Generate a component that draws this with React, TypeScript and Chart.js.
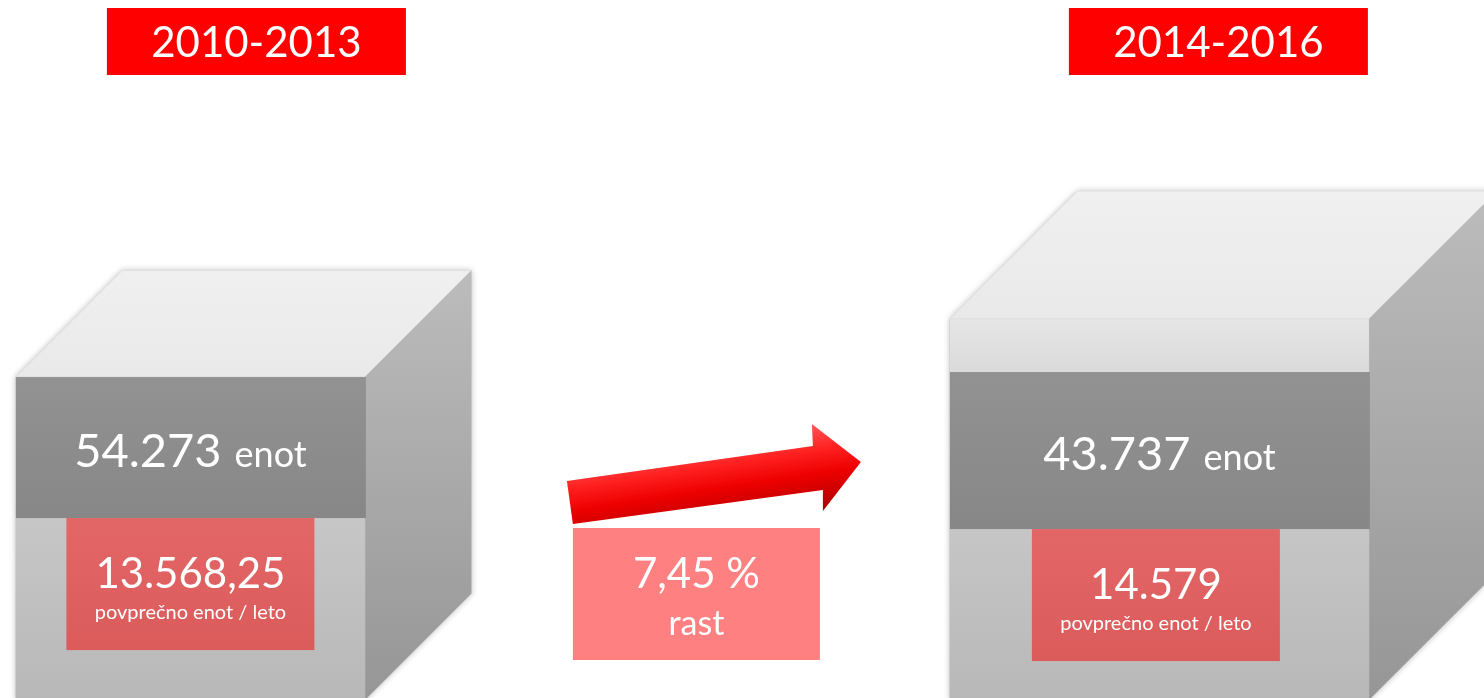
import React, { useEffect, useRef } from 'react';
import { Chart, registerables } from 'chart.js';

Chart.register(...registerables);

// ---------------- data ----------------
const periods = ['2010-2013', '2014-2016'];
const periodPositions = [0, 2];
const totalUnits = [54273, 43737];
const averagePerYear = [13568.25, 14579];
const averageDecimals = [2, 0];
const growthPercent = [7.45];
const growthPosition = [1];
const unitWord = 'enot';
const averageCaption = 'povprečno enot / leto';
const growthCaption = 'rast';

// ---------------- scale ranges / styles ----------------
const Y_MIN = 7940;
const Y_MAX = 20140;
const X_MIN = -0.393;
const X_MAX = 2.67;

const FONT = 'Lato, "Open Sans", sans-serif';

const cubeStyles = [
  { width: 349, bandOffset: 0, bandHeight: 141, headerShift: 66, boxShift: 0 },
  { width: 419, bandOffset: 53, bandHeight: 157, headerShift: 59, boxShift: -3.5 },
];

function fmtSl(v: number, dec: number): string {
  const [i, d] = v.toFixed(dec).split('.');
  const ii = i.replace(/\B(?=(\d{3})+(?!\d))/g, '.');
  return d ? ii + ',' + d : ii;
}

function frontFill(c: any) {
  const chart = c.chart;
  const ca = chart.chartArea;
  if (!ca) return '#c0c0c0';
  const g = chart.ctx.createLinearGradient(0, ca.bottom - 200, 0, ca.bottom);
  g.addColorStop(0, '#c8c8c8');
  g.addColorStop(1, '#b8b8b8');
  return g;
}

function barGeom(chart: any, i: number) {
  const el = chart.getDatasetMeta(i).data[0];
  if (!el) return null;
  const { x, y, base, width } = el.getProps(['x', 'y', 'base', 'width'], true);
  const l = x - width / 2;
  const r = x + width / 2;
  const dx = width * 0.305;
  const dy = dx * 1.0;
  return { x, l, r, t: y, b: base, dx, dy, w: width };
}

const infographicPlugin = {
  id: 'infographic',
  beforeDatasetsDraw(chart: any) {
    const ctx: CanvasRenderingContext2D = chart.ctx;
    chart.data.datasets.forEach((_ds: any, i: number) => {
      const g0 = barGeom(chart, i);
      if (!g0) return;
      const { l, r, t, b, dx, dy } = g0;
      ctx.save();
      ctx.shadowColor = 'rgba(0,0,0,0.28)';
      ctx.shadowBlur = 6;
      ctx.fillStyle = '#c4c4c4';
      ctx.beginPath();
      ctx.moveTo(l, b);
      ctx.lineTo(l, t);
      ctx.lineTo(l + dx, t - dy);
      ctx.lineTo(r + dx, t - dy);
      ctx.lineTo(r + dx, b - dy);
      ctx.lineTo(r, b);
      ctx.closePath();
      ctx.fill();
      ctx.restore();

      ctx.save();
      let g = ctx.createLinearGradient(0, t - dy, 0, t);
      g.addColorStop(0, '#f0f0f0');
      g.addColorStop(1, '#e9e9e9');
      ctx.fillStyle = g;
      ctx.beginPath();
      ctx.moveTo(l, t);
      ctx.lineTo(l + dx, t - dy);
      ctx.lineTo(r + dx, t - dy);
      ctx.lineTo(r, t);
      ctx.closePath();
      ctx.fill();
      g = ctx.createLinearGradient(0, t - dy, 0, b);
      g.addColorStop(0, '#bcbcbc');
      g.addColorStop(1, '#969696');
      ctx.fillStyle = g;
      ctx.beginPath();
      ctx.moveTo(r, t);
      ctx.lineTo(r + dx, t - dy);
      ctx.lineTo(r + dx, b - dy);
      ctx.lineTo(r, b);
      ctx.closePath();
      ctx.fill();
      ctx.restore();
    });
  },
  afterDatasetsDraw(chart: any) {
    const ctx: CanvasRenderingContext2D = chart.ctx;
    const xs = chart.scales.x;
    ctx.save();
    chart.data.datasets.forEach((_ds: any, i: number) => {
      const g0 = barGeom(chart, i);
      if (!g0) return;
      const { x, l, r, t } = g0;
      const st = cubeStyles[i];
      const bandTop = t + st.bandOffset;
      const bandBottom = bandTop + st.bandHeight;
      if (st.bandOffset > 0) {
        const gs = ctx.createLinearGradient(0, t, 0, bandTop);
        gs.addColorStop(0, '#e6e6e6');
        gs.addColorStop(1, '#dadada');
        ctx.fillStyle = gs;
        ctx.fillRect(l, t, r - l, st.bandOffset);
      }
      const gb = ctx.createLinearGradient(0, bandTop, 0, bandBottom);
      gb.addColorStop(0, '#929292');
      gb.addColorStop(1, '#878787');
      ctx.fillStyle = gb;
      ctx.fillRect(l, bandTop, r - l + 1, st.bandHeight);

      const num = fmtSl(totalUnits[i], 0);
      ctx.fillStyle = '#ffffff';
      ctx.textBaseline = 'alphabetic';
      ctx.textAlign = 'left';
      ctx.font = `47px ${FONT}`;
      const wNum = ctx.measureText(num).width;
      ctx.font = `36px ${FONT}`;
      const wUnit = ctx.measureText(unitWord).width;
      const gap = 13;
      const start = x - (wNum + gap + wUnit) / 2;
      const baseY = (bandTop + bandBottom) / 2 + 19;
      ctx.font = `47px ${FONT}`;
      ctx.fillText(num, start, baseY);
      ctx.font = `36px ${FONT}`;
      ctx.fillText(unitWord, start + wNum + gap, baseY);

      const bw = 248;
      const bh = 132;
      const bcx = x + st.boxShift;
      const bx = bcx - bw / 2;
      const by = bandBottom;
      const gr = ctx.createLinearGradient(0, by, 0, by + bh);
      gr.addColorStop(0, '#e36666');
      gr.addColorStop(1, '#db5b5b');
      ctx.fillStyle = gr;
      ctx.fillRect(bx, by, bw, bh);
      ctx.fillStyle = '#ffffff';
      ctx.textAlign = 'center';
      ctx.font = `42px ${FONT}`;
      ctx.fillText(fmtSl(averagePerYear[i], averageDecimals[i]), bcx, by + 70);
      ctx.font = `20px ${FONT}`;
      ctx.fillText(averageCaption, bcx, by + 101);

      const hw = 299;
      const hh = 67;
      const hcx = x + st.headerShift;
      ctx.fillStyle = '#fe0000';
      ctx.fillRect(hcx - hw / 2, 8, hw, hh);
      ctx.fillStyle = '#ffffff';
      ctx.font = `42px ${FONT}`;
      ctx.fillText(periods[i], hcx, 57);
    });

    const gx = xs.getPixelForValue(growthPosition[0]);
    const ga = ctx.createLinearGradient(gx + 130, 424, gx + 144, 515);
    ga.addColorStop(0, '#ff5a5a');
    ga.addColorStop(0.3, '#ff2020');
    ga.addColorStop(0.55, '#ee0000');
    ga.addColorStop(1, '#a80000');
    ctx.fillStyle = ga;
    ctx.beginPath();
    ctx.moveTo(gx - 108, 481);
    ctx.lineTo(gx + 138, 446);
    ctx.lineTo(gx + 137, 424);
    ctx.lineTo(gx + 186, 462);
    ctx.lineTo(gx + 148, 511);
    ctx.lineTo(gx + 148, 490);
    ctx.lineTo(gx - 102, 524);
    ctx.closePath();
    ctx.fill();

    const bx = gx - 102;
    const by = 528;
    ctx.fillStyle = '#ff8080';
    ctx.fillRect(bx, by, 247, 132);
    ctx.fillStyle = '#ffffff';
    ctx.textAlign = 'center';
    ctx.font = `42px ${FONT}`;
    ctx.fillText(fmtSl(growthPercent[0], 2) + ' %', bx + 123.5, by + 60);
    ctx.font = `34px ${FONT}`;
    ctx.fillText(growthCaption, bx + 123.5, by + 107);
    ctx.restore();
  },
};

export default function App() {
  const ref = useRef<HTMLCanvasElement>(null);
  useEffect(() => {
    if (!ref.current) return;
    const chart = new Chart(ref.current, {
      type: 'bar',
      data: {
        datasets: periods.map((p, i) => ({
          label: p,
          data: [{ x: periodPositions[i], y: averagePerYear[i] }],
          barThickness: cubeStyles[i].width,
          grouped: false,
          base: Y_MIN,
          backgroundColor: frontFill,
          borderWidth: 0,
        })),
      } as any,
      options: {
        responsive: false,
        animation: false,
        events: [],
        layout: { padding: 0 },
        scales: {
          x: { type: 'linear', min: X_MIN, max: X_MAX, display: false, offset: false },
          y: { type: 'linear', min: Y_MIN, max: Y_MAX, display: false },
        },
        plugins: { legend: { display: false }, tooltip: { enabled: false } },
      } as any,
      plugins: [infographicPlugin],
    });
    return () => chart.destroy();
  }, []);
  return (
    <div style={{ position: 'fixed', left: 0, top: 0, width: 1484, height: 698, overflow: 'hidden', background: '#ffffff' }}>
      <canvas ref={ref} width={1484} height={700} style={{ display: 'block' }} />
    </div>
  );
}
